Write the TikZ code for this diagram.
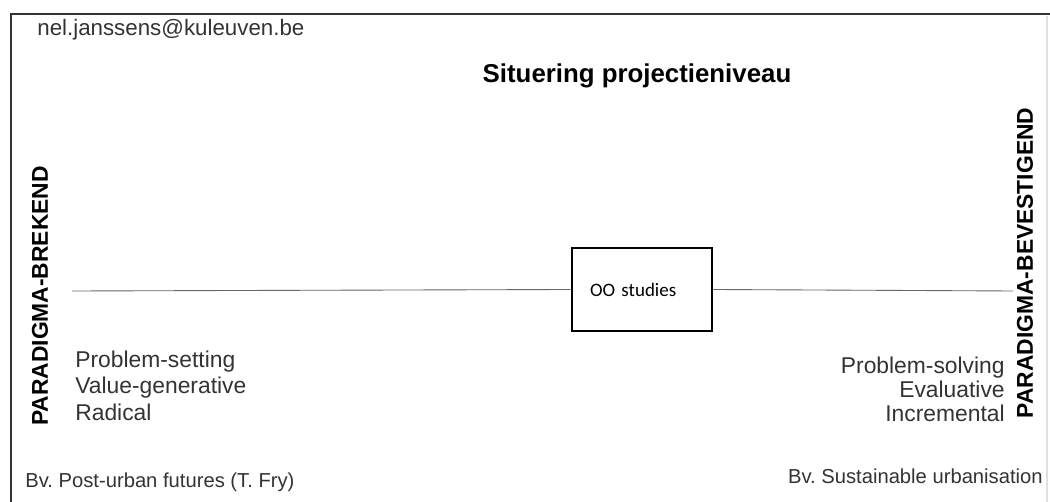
\documentclass[tikz,border=0pt]{standalone}
\usepackage{fontspec}
\setmainfont{Liberation Sans}
\newfontfamily\calfont{Carlito}
\definecolor{txtgray}{HTML}{333333}
\frenchspacing

\begin{document}
\begin{tikzpicture}[x=0.02cm,y=-0.02cm,
    every node/.style={inner sep=0pt, text=txtgray},
    sidelabel/.style={font=\bfseries\fontsize{13}{15}\selectfont, text=black, rotate=90},
    listleft/.style={anchor=base west, font=\fontsize{13}{15}\selectfont},
    listright/.style={anchor=base east, font=\fontsize{13}{15}\selectfont},
    example/.style={anchor=base, font=\fontsize{11.5}{13}\selectfont},
    studybox/.style={draw=black, line width=1.6pt, minimum width=2.8cm, minimum height=1.66cm,
        text width=2.08cm, align=left, font=\calfont\fontsize{10.8}{12}\selectfont, text=black}]
    \useasboundingbox (0,0) rectangle (1050,502);
    % frame
    \draw [black!80, line width=1pt] (11,502) -- (11,14) -- (1050,14);
    \draw [black!12, line width=0.6pt] (1047,16) -- (1047,502);
    % header
    \node [anchor=base west, font=\fontsize{12.7}{15}\selectfont] (mail) at (37,36) {nel.janssens@kuleuven.be};
    \node [anchor=base, font=\bfseries\fontsize{14.7}{17}\selectfont, text=black] (title) at (637,83) {Situering projectieniveau};
    % axis
    \coordinate (axisL) at (72,291);
    \coordinate (axisR) at (1013,291);
    \node [studybox] (oo) at (642,289.5) {OO studies};
    \draw [black!60, line width=0.5pt] (axisL) -- (oo.west);
    \draw [black!60, line width=0.5pt] (oo.east) -- (axisR);
    % poles
    \node [sidelabel] (breken) at (40,296) {PARADIGMA-BREKEND};
    \node [sidelabel] (bevestig) at (1025,263) {PARADIGMA-BEVESTIGEND};
    % left list
    \node [listleft] (setting) at (75,368) {Problem-setting};
    \node [listleft] (generative) at (75,394) {Value-generative};
    \node [listleft] (radical) at (75,421) {Radical};
    % right list
    \node [listright] (solving) at (1005,374) {Problem-solving};
    \node [listright] (evaluative) at (1005,398) {Evaluative};
    \node [listright] (incremental) at (1005,422) {Incremental};
    % examples
    \node [example, anchor=base west] (fry) at (25,487) {Bv. Post-urban futures (T. Fry)};
    \node [example, anchor=base east] (urban) at (1043,483) {Bv. Sustainable urbanisation};
\end{tikzpicture}
\end{document}
